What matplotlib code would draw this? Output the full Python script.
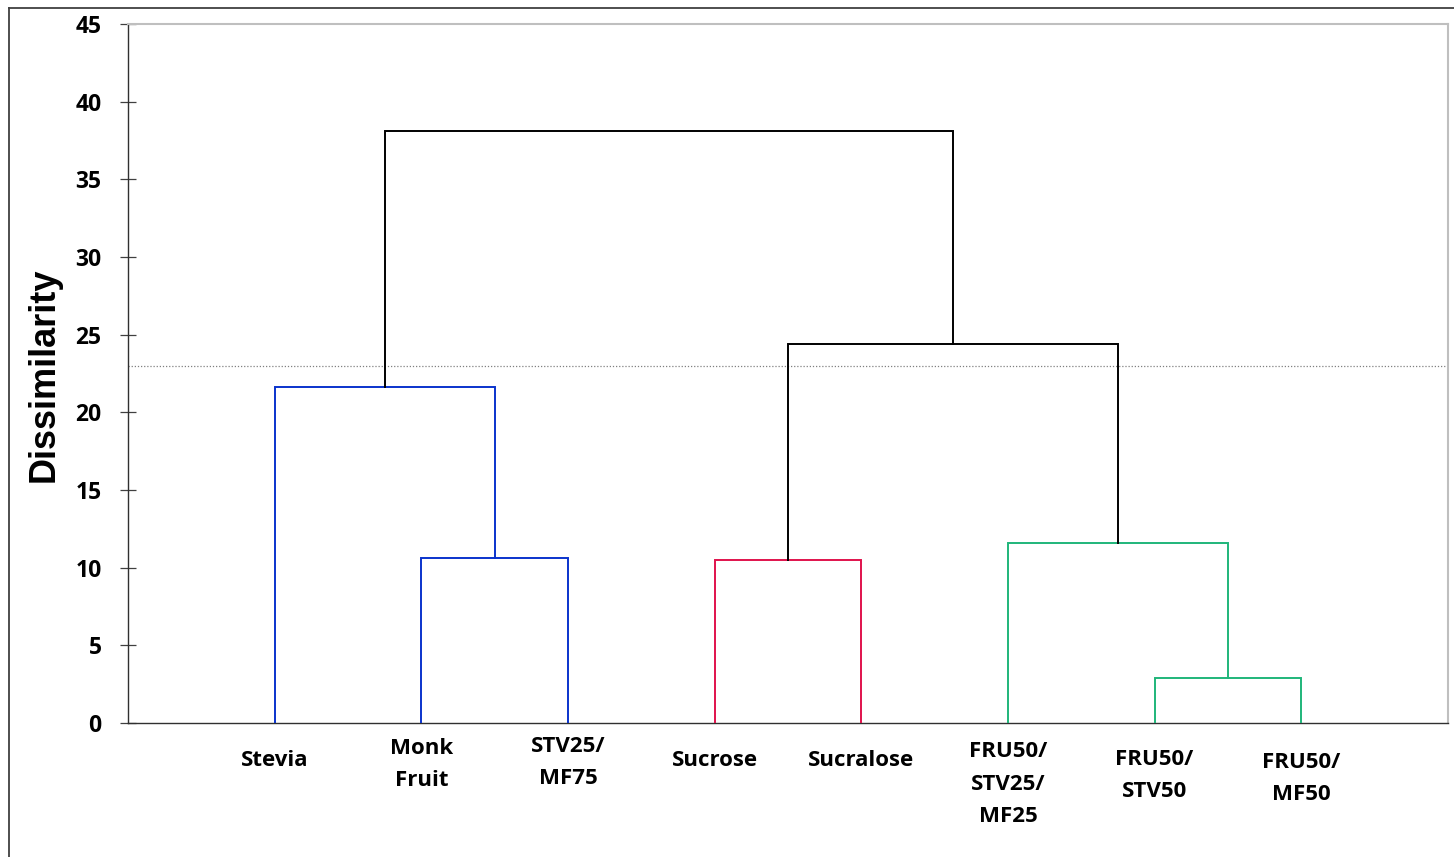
"""Dendrogram of sweetener samples (agglomerative clustering, dissimilarity)."""

import matplotlib

matplotlib.use("Agg")
import matplotlib.pyplot as plt
from matplotlib.lines import Line2D

# leaves in plotting order
LABELS = ["Stevia", "Monk\nFruit", "STV25/\nMF75", "Sucrose", "Sucralose",
          "FRU50/\nSTV25/\nMF25", "FRU50/\nSTV50", "FRU50/\nMF50"]

# linkage: new cluster id = 8 + row index (scipy-style)
MERGE_A = [6, 1, 3, 5, 0, 10, 12]
MERGE_B = [7, 2, 4, 8, 9, 11, 13]
MERGE_H = [2.9, 10.6, 10.5, 11.6, 21.6, 24.4, 38.1]
MERGE_COLOR = ["#1FB57A", "#0A33CC", "#E0124C", "#1FB57A", "#0A33CC",
               "black", "black"]
CUT_LEVEL = 23.0

YTICKS = [0, 5, 10, 15, 20, 25, 30, 35, 40, 45]

# vertical offsets (points below axis) of each leaf label, as in the original
LABEL_OFFSET = [27, 30, 28.5, 27, 27, 44, 38, 40]

TICK_FONT = "Open Sans"


def main() -> None:
    fig = plt.figure(figsize=(14.54, 8.57), dpi=100)
    ax = fig.add_axes([128 / 1454, 134 / 857, 1320 / 1454, 699 / 857])

    n = len(LABELS)
    xpos = {i: i + 1 for i in range(n)}
    hpos = {i: 0.0 for i in range(n)}
    for k, (a, b, h, c) in enumerate(zip(MERGE_A, MERGE_B, MERGE_H, MERGE_COLOR)):
        xa, xb = xpos[a], xpos[b]
        ax.plot([xa, xa, xb, xb], [hpos[a], h, h, hpos[b]], color=c,
                linewidth=1.4, solid_joinstyle="miter", zorder=3)
        xpos[n + k] = (xa + xb) / 2
        hpos[n + k] = h

    ax.axhline(CUT_LEVEL, color="#808080", linestyle=(0, (1, 1.5)),
               linewidth=0.9, zorder=2)

    ax.set_xlim(0, n + 1)
    ax.set_ylim(0, 45)
    ax.set_yticks(YTICKS)
    ax.set_yticklabels([str(t) for t in YTICKS], fontfamily=TICK_FONT,
                       fontweight="bold", fontsize=16.5)
    ax.tick_params(axis="y", direction="inout", length=12, width=0.9,
                   color="#404040", pad=13)
    ax.set_xticks([])

    for i, lab in enumerate(LABELS):
        ax.annotate(lab, xy=(i + 1, 0), xycoords=("data", "axes fraction"),
                    xytext=(0, -LABEL_OFFSET[i]), textcoords="offset points",
                    ha="center", va="center", multialignment="center",
                    fontfamily=TICK_FONT, fontweight="bold", fontsize=16,
                    linespacing=1.7, annotation_clip=False)

    for side in ("top", "right"):
        ax.spines[side].set_color("#BFBFBF")
        ax.spines[side].set_linewidth(1.5)
    for side in ("left", "bottom"):
        ax.spines[side].set_color("#303030")
        ax.spines[side].set_linewidth(1.0)

    fig.text(44 / 1454, 1 - 375 / 857, "Dissimilarity", rotation=90,
             ha="center", va="center", fontfamily="Liberation Sans",
             fontweight="bold", fontsize=26)

    # outer chart frame (only left and top edges show in the crop)
    fx, fy = 8.5 / 1454, 1 - 7.5 / 857
    fig.add_artist(Line2D([fx, fx], [0, fy], transform=fig.transFigure,
                          color="#404040", linewidth=1.3))
    fig.add_artist(Line2D([fx, 1], [fy, fy], transform=fig.transFigure,
                          color="#404040", linewidth=1.3))

    fig.savefig("out.png", dpi=100)


if __name__ == "__main__":
    main()
